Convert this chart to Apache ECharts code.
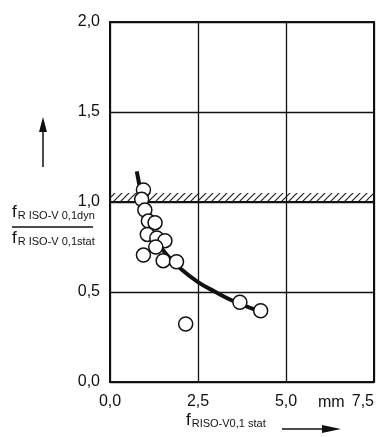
<!DOCTYPE html>
<html>
<head>
<meta charset="utf-8">
<script src="https://cdn.jsdelivr.net/npm/echarts@6/dist/echarts.min.js"></script>
<style>html,body{margin:0;padding:0;background:#fff;}#c{width:383px;height:437px;}</style>
</head>
<body>
<div id="c"></div>
<script>
// Data
var xTicks = [0, 2.5, 5.0, 7.5];
var yTicks = [0, 0.5, 1.0, 1.5, 2.0];
var pointsX = [0.95, 0.90, 0.99, 1.09, 1.28, 1.06, 1.33, 1.56, 1.30, 0.95, 1.51, 1.89, 3.69, 4.28, 2.15];
var pointsY = [1.067, 1.015, 0.955, 0.894, 0.885, 0.82, 0.80, 0.785, 0.75, 0.705, 0.674, 0.668, 0.443, 0.396, 0.322];
var curveX = [0.76, 0.85, 0.95, 1.10, 1.30, 1.60, 2.00, 2.50, 3.00, 3.50, 4.15];
var curveY = [1.17, 1.08, 0.98, 0.88, 0.79, 0.71, 0.63, 0.555, 0.50, 0.45, 0.40];
var bandLow = 1.0, bandHigh = 1.05;

var FONT = "'Liberation Sans Narrow', 'Liberation Sans', sans-serif";

function comma(v) { return v.toFixed(1).replace('.', ','); }

// hatch pattern
var pc = document.createElement('canvas');
pc.width = 7; pc.height = 7;
var g = pc.getContext('2d');
g.strokeStyle = '#222'; g.lineWidth = 1.2;
g.beginPath(); g.moveTo(-1, 8); g.lineTo(8, -1); g.stroke();
g.beginPath(); g.moveTo(-8, 8); g.lineTo(1, -1); g.stroke();
g.beginPath(); g.moveTo(6, 8); g.lineTo(15, -1); g.stroke();

var pts = pointsX.map(function (x, i) { return [x, pointsY[i]]; });
var crv = curveX.map(function (x, i) { return [x, curveY[i]]; });

var chart = echarts.init(document.getElementById('c'), null, { renderer: 'canvas' });
chart.setOption({
  animation: false,
  backgroundColor: '#fff',
  grid: { left: 110, right: 9, top: 22, bottom: 55, show: true, borderColor: '#111', borderWidth: 2, containLabel: false, outerBoundsMode: 'none' },
  xAxis: {
    type: 'value', min: 0, max: 7.5, interval: 2.5,
    axisLine: { show: false }, axisTick: { show: false },
    splitLine: { show: true, lineStyle: { color: '#111', width: 1.3 } },
    axisLabel: { margin: 12, color: '#111', fontFamily: FONT, fontSize: 16, formatter: comma, alignMaxLabel: 'right' }
  },
  yAxis: {
    type: 'value', min: 0, max: 2, interval: 0.5,
    axisLine: { show: false }, axisTick: { show: false },
    splitLine: { show: true, lineStyle: { color: '#111', width: 1.3 } },
    axisLabel: { margin: 10, color: '#111', fontFamily: FONT, fontSize: 16, formatter: comma }
  },
  series: [
    {
      type: 'line', data: crv, smooth: 0.4, symbol: 'none', z: 3,
      lineStyle: { color: '#111', width: 4 },
      markArea: {
        silent: true,
        itemStyle: { color: { image: pc, repeat: 'repeat' }, borderWidth: 0 },
        data: [[{ yAxis: bandLow, xAxis: 0 }, { yAxis: bandHigh, xAxis: 7.5 }]]
      },
      markLine: {
        silent: true, symbol: 'none', label: { show: false },
        lineStyle: { color: '#111', width: 2, type: 'solid' },
        data: [{ yAxis: bandLow }]
      }
    },
    {
      type: 'scatter', data: pts, symbol: 'circle', symbolSize: 14, z: 5,
      itemStyle: { color: '#fff', borderColor: '#111', borderWidth: 1.5, opacity: 1 }
    }
  ],
  graphic: [
    { type: 'text', left: 318, top: 395, style: { text: 'mm', font: '16px ' + FONT, fill: '#111' } },
    // y-axis title fraction
    { type: 'text', left: 12, top: 204, style: { rich: { f: { font: '17px ' + FONT, fill: '#111' }, s: { font: '11px ' + FONT, fill: '#111', padding: [6, 0, 0, 1] } }, text: '{f|f}{s|R ISO-V 0,1dyn}' } },
    { type: 'line', shape: { x1: 12, y1: 227, x2: 93, y2: 227 }, style: { stroke: '#111', lineWidth: 1.5 } },
    { type: 'text', left: 12, top: 230, style: { rich: { f: { font: '17px ' + FONT, fill: '#111' }, s: { font: '11px ' + FONT, fill: '#111', padding: [6, 0, 0, 1] } }, text: '{f|f}{s|R ISO-V 0,1stat}' } },
    { type: 'line', shape: { x1: 43, y1: 167, x2: 43, y2: 128 }, style: { stroke: '#111', lineWidth: 1.5 } },
    { type: 'polygon', shape: { points: [[39, 132], [43, 117], [47, 132]] }, style: { fill: '#111' } },
    // x-axis title
    { type: 'text', left: 186, top: 412, style: { rich: { f: { font: '17px ' + FONT, fill: '#111' }, s: { font: '11px ' + FONT, fill: '#111', padding: [6, 0, 0, 1] } }, text: '{f|f}{s|RISO-V0,1 stat}' } },
    { type: 'line', shape: { x1: 282, y1: 429, x2: 328, y2: 429 }, style: { stroke: '#111', lineWidth: 1.5 } },
    { type: 'polygon', shape: { points: [[322, 425], [341, 429], [322, 433]] }, style: { fill: '#111' } }
  ]
});
</script>
</body>
</html>
